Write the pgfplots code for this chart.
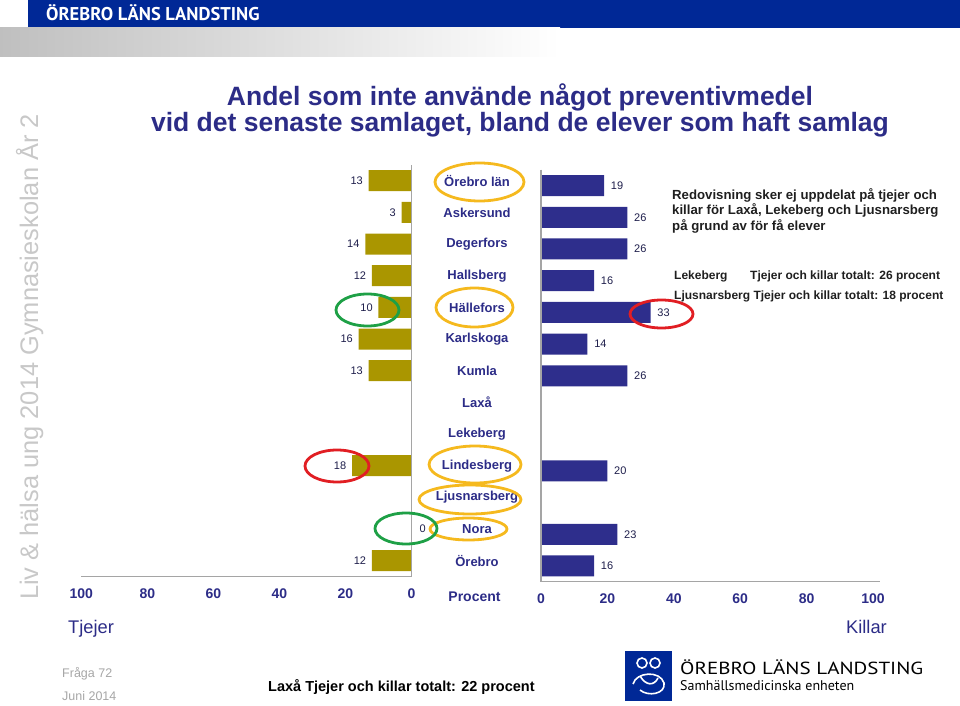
\documentclass[border=0pt]{standalone}
\usepackage{pgfplots}
\pgfplotsset{compat=1.18}
\usepackage{pgfplotstable}
\usepackage{fontspec}
\setmainfont{Liberation Sans}
\newfontfamily\ptsans{PT Sans}
\pgfplotsset{/pgf/number format/assume math mode=true}

\definecolor{navy}{RGB}{44,44,135}
\definecolor{tjejcol}{RGB}{170,150,0}
\definecolor{killcol}{RGB}{46,46,140}
\definecolor{headblue}{RGB}{0,40,150}
\definecolor{ringyellow}{RGB}{245,185,30}
\definecolor{ringgreen}{RGB}{30,160,70}
\definecolor{ringred}{RGB}{225,30,35}
\definecolor{sidegray}{RGB}{200,200,200}
\definecolor{axgray}{RGB}{165,165,165}
\definecolor{lbl}{RGB}{30,30,75}

% index 0 = Örebro län (top) ... 12 = Örebro (bottom)
\pgfplotstableread{
idx val dx
0  13 0
1  3  0
2  14 0
3  12 0
4  10 0
5  16 0
6  13 0
9  18 0
11 0  20
12 12 0
}\tjejer
\pgfplotstableread{
idx val
0  19
1  26
2  26
3  16
4  33
5  14
6  26
9  20
11 23
12 16
}\killar

\begin{document}
\begin{tikzpicture}[x=1pt,y=1pt]
\path[use as bounding box] (0,0) rectangle (960,705);

% header
\fill[headblue] (28,705) rectangle (960,677);
\shade[left color=gray!50, right color=white] (0,677) rectangle (560,648);
\node[anchor=base west, inner sep=0, text=white,
  font=\ptsans\bfseries\fontsize{18.5}{18.5}\selectfont] at (46,{705-20.7}) {ÖREBRO LÄNS LANDSTING};

% side text
\node[rotate=90, anchor=base, inner sep=0, text=sidegray,
  font=\fontsize{25.4}{25.4}\selectfont] at (38,{705-357}) {Liv \& hälsa ung 2014 Gymnasieskolan År 2};

% title
\node[anchor=base, inner sep=0, text=navy, font=\bfseries\fontsize{26.5}{26.5}\selectfont]
  at (520,{705-105.7}) {Andel som inte använde något preventivmedel};
\node[anchor=base, inner sep=0, text=navy, font=\bfseries\fontsize{26.5}{26.5}\selectfont]
  at (520,{705-131.7}) {vid det senaste samlaget, bland de elever som haft samlag};

% Tjejer
\begin{axis}[
  at={(81.3pt,128.5pt)}, anchor=south west,
  scale only axis, width=330.2pt, height=411.6pt,
  xbar, bar width=21pt,
  x dir=reverse, y dir=reverse,
  xmin=0, xmax=100, ymin=-0.5, ymax=12.5,
  xtick={0,20,...,100}, ytick=\empty,
  major tick length=0pt,
  axis line style={draw=none},
  xticklabel style={font=\bfseries\fontsize{14}{14}\selectfont, text=navy, anchor=base, yshift=-21.8pt},
  clip=false,
]
\addplot[fill=tjejcol, draw=none, point meta=x,
  visualization depends on={\thisrow{dx} \as \dx},
  nodes near coords,
  nodes near coords style={font=\fontsize{11}{11}\selectfont, text=lbl, anchor=east, xshift=-2.3pt, xshift={\dx pt}},
] table[x=val, y=idx] {\tjejer};
\draw[axgray, line width=1.2pt] (axis cs:100,12.5) -- (axis cs:0,12.5) -- (axis cs:0,-0.5);
\end{axis}

% Killar
\begin{axis}[
  at={(541pt,123.2pt)}, anchor=south west,
  scale only axis, width=332pt, height=412.1pt,
  xbar, bar width=21pt,
  y dir=reverse,
  xmin=0, xmax=100, ymin=-0.5, ymax=12.5,
  xtick={0,20,...,100}, ytick=\empty,
  major tick length=0pt,
  axis line style={draw=none},
  xticklabel style={font=\bfseries\fontsize{14}{14}\selectfont, text=navy, anchor=base, yshift=-21.2pt},
  clip=false,
]
\addplot[fill=killcol, draw=none, point meta=x,
  nodes near coords,
  nodes near coords style={font=\fontsize{11}{11}\selectfont, text=lbl, anchor=west, xshift=3.3pt},
] table[x=val, y=idx] {\killar};
\draw[axgray, line width=1.2pt] (axis cs:0,-0.5) -- (axis cs:0,12.5) -- (axis cs:102,12.5);
\end{axis}

% category names
\foreach \n [count=\i from 0] in {Örebro län, Askersund, Degerfors, Hallsberg, Hällefors, Karlskoga, Kumla, Laxå, Lekeberg, Lindesberg, Ljusnarsberg, Nora, Örebro}
  \node[anchor=center, inner sep=0, text=navy, font=\bfseries\fontsize{13}{13}\selectfont]
    at (477,{705-180.7-31.67*\i}) {\n};

\node[anchor=base, inner sep=0, text=navy, font=\bfseries\fontsize{14}{14}\selectfont] at (474.5,{705-601.7}) {Procent};
\node[anchor=base west, inner sep=0, text=navy, font=\fontsize{18.3}{18.3}\selectfont] at (68,{705-633.5}) {Tjejer};
\node[anchor=base east, inner sep=0, text=navy, font=\fontsize{18.3}{18.3}\selectfont] at (887,{705-633.5}) {Killar};

% rings
\begin{scope}[line width=2.8pt]
\draw[ringyellow] (479.5,{705-182}) ellipse (44.5 and 19);
\draw[ringyellow] (474.5,{705-307.5}) ellipse (38.5 and 19.5);
\draw[ringyellow] (475,{705-464.5}) ellipse (46 and 18.5);
\draw[ringyellow] (470,{705-499.5}) ellipse (51 and 14.5);
\draw[ringyellow] (468.5,{705-529}) ellipse (38.5 and 11);
\draw[ringgreen] (367.5,{705-310}) ellipse (31.5 and 16);
\draw[ringgreen] (406,{705-528.5}) ellipse (31 and 15.5);
\draw[ringred] (337,{705-466}) ellipse (32 and 16);
\draw[ringred] (661.5,{705-314}) ellipse (31.5 and 14);
\end{scope}

% notes right
\begin{scope}[every node/.style={anchor=base west, inner sep=0, text=black!88}]
\node[font=\bfseries\fontsize{13.2}{13.2}\selectfont] at (672,{705-199.3}) {Redovisning sker ej uppdelat på tjejer och};
\node[font=\bfseries\fontsize{13.2}{13.2}\selectfont] at (672,{705-215}) {killar för Laxå, Lekeberg och Ljusnarsberg};
\node[font=\bfseries\fontsize{13.2}{13.2}\selectfont] at (672,{705-230.5}) {på grund av för få elever};
\node[font=\bfseries\fontsize{12}{12}\selectfont] at (674,{705-280}) {Lekeberg};
\node[font=\bfseries\fontsize{12}{12}\selectfont] at (750,{705-280}) {Tjejer och killar totalt: 26 procent};
\node[font=\bfseries\fontsize{12}{12}\selectfont] at (674,{705-300}) {Ljusnarsberg Tjejer och killar totalt: 18 procent};
\end{scope}

% footer
\node[anchor=base west, inner sep=0, text=gray!70, font=\fontsize{12.5}{12.5}\selectfont] at (62,{705-677}) {Fråga 72};
\node[anchor=base west, inner sep=0, text=gray!70, font=\fontsize{12.5}{12.5}\selectfont] at (62,{705-700}) {Juni 2014};
\node[anchor=base west, inner sep=0, text=black, font=\bfseries\fontsize{14.5}{14.5}\selectfont] at (268,{705-691}) {Laxå Tjejer och killar totalt: 22 procent};

% logo
\fill[headblue] (625,{705-651}) rectangle (672,{705-701});
\begin{scope}[white, line width=1.6pt]
\draw (642,{705-663}) circle (5);
\draw (655,{705-663}) circle (5);
\draw (633,{705-684}) .. controls (636,{705-672}) and (660,{705-670}) .. (664,{705-683})
      .. controls (666,{705-694}) and (648,{705-697}) .. (640,{705-690});
\draw (640,{705-676}) .. controls (646,{705-686}) and (654,{705-686}) .. (658,{705-678});
\end{scope}
\node[anchor=base west, inner sep=0, text=black, font=\ptsans\fontsize{17.5}{17.5}\selectfont] at (680,{705-674.3}) {\scalebox{1.2}[1]{ÖREBRO LÄNS LANDSTING}};
\node[anchor=base west, inner sep=0, text=black, font=\ptsans\fontsize{14}{14}\selectfont] at (680,{705-690}) {Samhällsmedicinska enheten};
\end{tikzpicture}
\end{document}
